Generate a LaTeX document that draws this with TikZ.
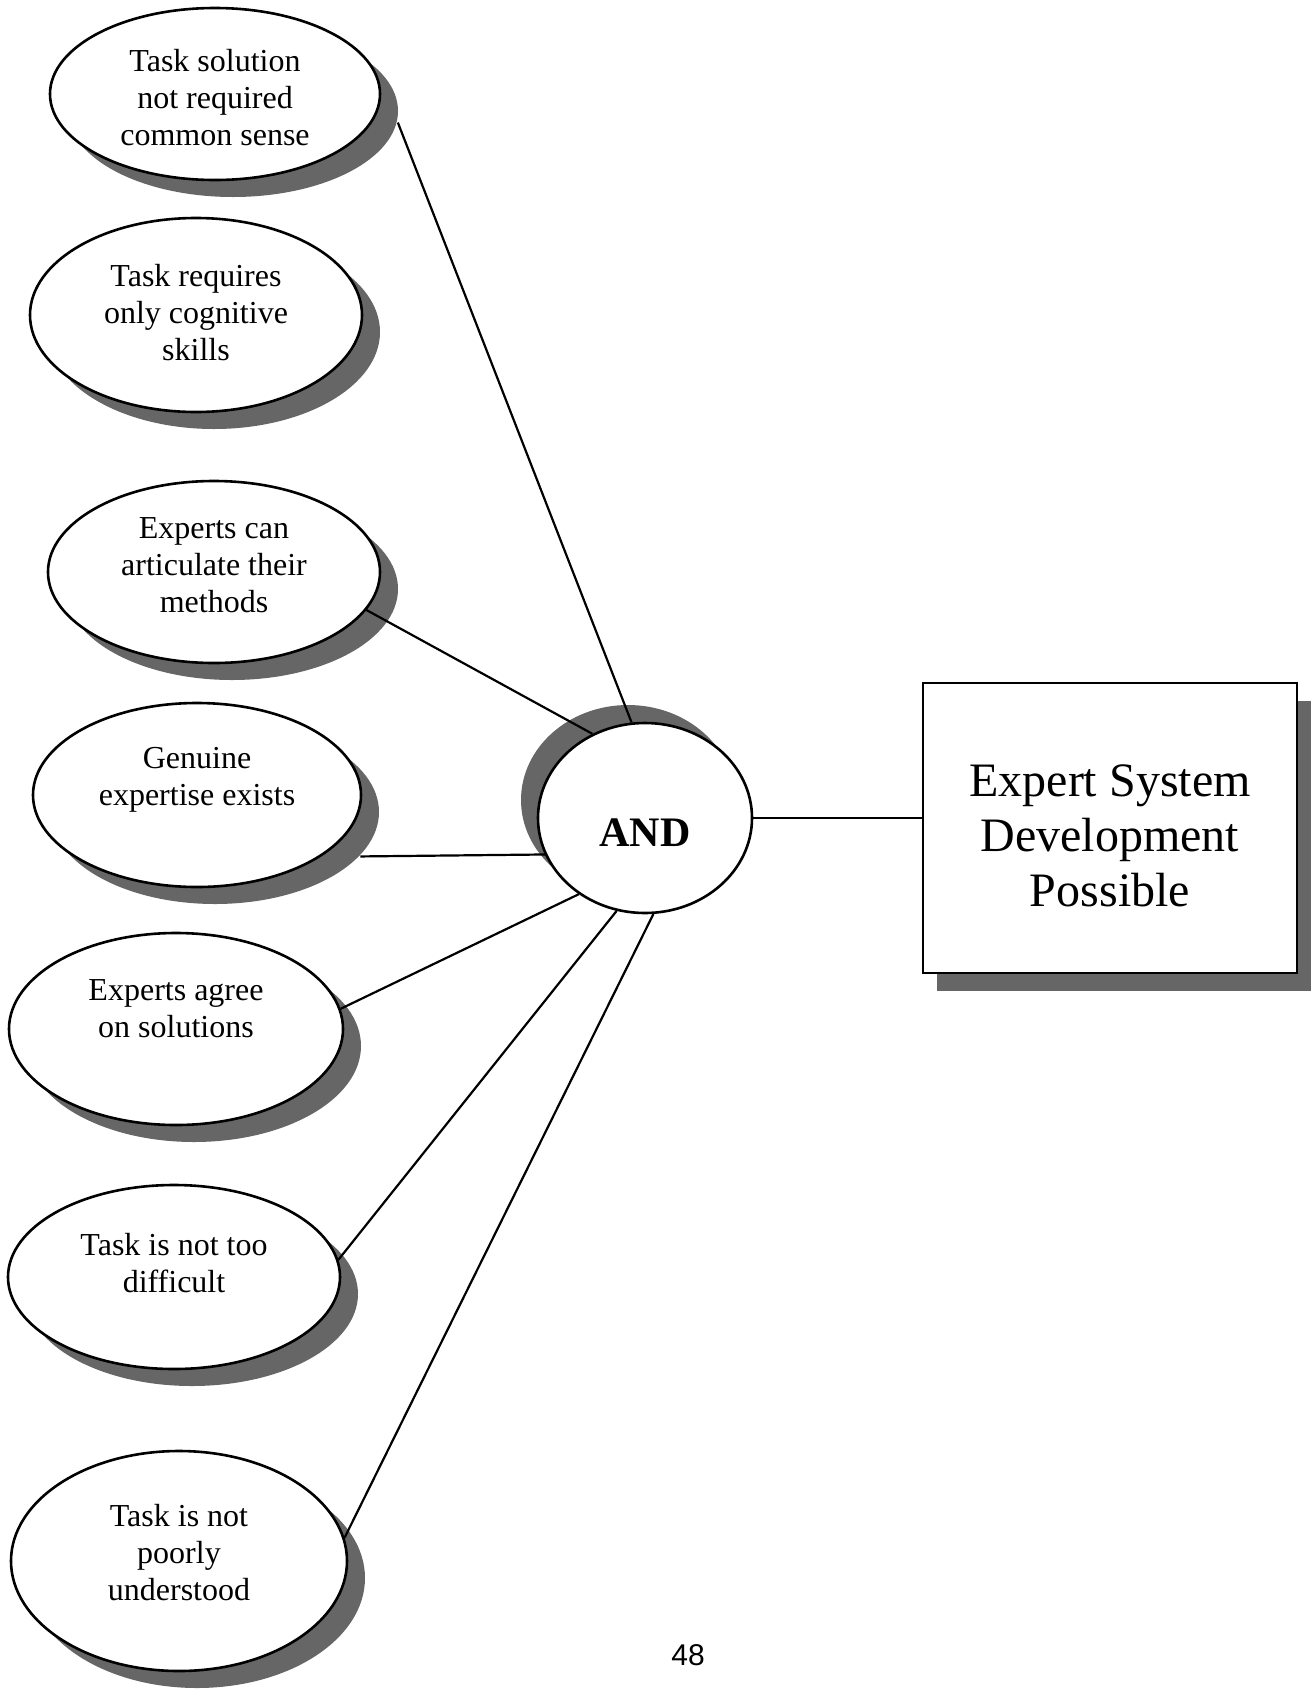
\documentclass[tikz,border=0pt]{standalone}
\usepackage{fontspec}
\setmainfont{Liberation Serif}
\newfontfamily\pagefont{Liberation Sans}
\usetikzlibrary{shapes.geometric,shadows}

\begin{document}
\begin{tikzpicture}[x=1pt,y=-1pt,
    task/.style={ellipse, draw, line width=2.6pt, fill=white, inner sep=0pt,
        drop shadow={shadow xshift=18pt, shadow yshift=-17pt, fill=black!60, opacity=1}},
    tasktext/.style={align=center, font=\fontsize{32}{37}\selectfont},
    link/.style={line width=2.2pt},
    sh/.style={shift={(18,17)}}]
    \useasboundingbox (0,0) rectangle (1315,1695);
    \node[task, minimum width=330pt, minimum height=172pt,
        label={[tasktext, yshift=-4]center:Task solution\\not required\\common sense}] (e1) at (215,94) {};
    \node[task, minimum width=332pt, minimum height=194pt,
        label={[tasktext, yshift=2]center:Task requires\\only cognitive\\skills}] (e2) at (196,315) {};
    \node[task, minimum width=332pt, minimum height=182pt,
        label={[tasktext, yshift=7]center:Experts can\\articulate their\\methods}] (e3) at (214,572) {};
    \node[task, minimum width=328pt, minimum height=184pt,
        label={[tasktext, yshift=15]center:Genuine\\expertise exists}] (e4) at (197,795) {};
    \node[task, minimum width=334pt, minimum height=192pt,
        label={[tasktext, yshift=20]center:Experts agree\\on solutions}] (e5) at (176,1029) {};
    \node[task, minimum width=332pt, minimum height=184pt,
        label={[tasktext, yshift=14]center:Task is not too\\difficult}] (e6) at (174,1277) {};
    \node[task, minimum width=336pt, minimum height=220pt,
        label={[tasktext, yshift=8]center:Task is not\\poorly\\understood}] (e7) at (179,1561) {};
    \node[ellipse, draw, line width=2.6pt, fill=white, minimum width=214pt, minimum height=190pt,
        drop shadow={shadow xshift=-17pt, shadow yshift=18pt, fill=black!60, opacity=1},
        label={[font=\bfseries\fontsize{42}{48}\selectfont, yshift=-15]center:AND}] (and) at (645,818) {};
    \node[draw, line width=2pt, fill=white, minimum width=374pt, minimum height=290pt,
        drop shadow={shadow xshift=14pt, shadow yshift=-18pt, fill=black!60, opacity=1},
        label={[align=center, font=\fontsize{48}{55}\selectfont, yshift=-8]center:Expert System\\Development\\Possible}] (goal) at (1110,828) {};
    \node[font=\pagefont\fontsize{30}{34}\selectfont] (page) at (688,1655) {48};
    \draw[link] ([sh]e1.-4) -- (and.98);
    \draw[link] (e3.-14) -- (and.122);
    \draw[link] ([sh]e4.-17) -- (and.200);
    \draw[link] (e5.7) -- (and.229);
    \draw[link] (e6.6) -- (and.253);
    \draw[link] (e7.8) -- (and.275);
    \draw[link] (and.east) -- (and.east -| goal.west);
\end{tikzpicture}
\end{document}
